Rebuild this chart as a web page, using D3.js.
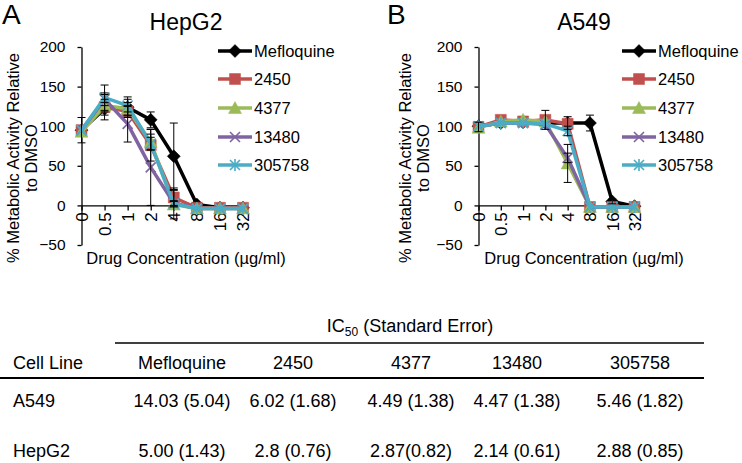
<!DOCTYPE html>
<html>
<head>
<meta charset="utf-8">
<script src="https://cdn.jsdelivr.net/npm/d3@7"></script>
<style>
html,body{margin:0;padding:0;background:#fff;}
svg{display:block;font-family:"Liberation Sans",Arial,sans-serif;}
</style>
</head>
<body>
<svg id="chart" width="742" height="463"></svg>
<script>
// ---------- data ----------
const concentrations = ["0", "0.5", "1", "2", "4", "8", "16", "32"];
const seriesNames = ["Mefloquine", "2450", "4377", "13480", "305758"];
const seriesColors = ["#000000", "#C0504D", "#9BBB59", "#8064A2", "#4BACC6"];
const yTicks = [-50, 0, 50, 100, 150, 200];

// HepG2 (panel A)
const hepg2Mefloquine = [95, 122, 124, 108, 62, 1, -3, -3];
const hepg2_2450      = [95, 124, 119, 76, 10, -3, -3, -3];
const hepg2_4377      = [93, 126, 122, 80, 1, -4, -4, -4];
const hepg2_13480     = [95, 134, 103, 48, 3, -4, -4, -4];
const hepg2_305758    = [95, 136, 126, 78, 2, -4, -4, -4];
const hepg2ErrMefloquine = [16, 8, 13, 10, 42, 0, 0, 0];
const hepg2Err2450       = [0, 16, 6, 20, 12, 0, 0, 0];
const hepg2Err4377       = [0, 8, 8, 10, 18, 0, 0, 0];
const hepg2Err13480      = [0, 8, 23, 48, 3, 0, 0, 0];
const hepg2Err305758     = [0, 16, 8, 8, 3, 0, 0, 0];

// A549 (panel B)
const a549Mefloquine = [100, 104, 105, 104, 104, 104, 5, -1];
const a549_2450      = [99, 108, 106, 108, 103, -2, -2, -2];
const a549_4377      = [98, 106, 108, 106, 53, -2, -2, -2];
const a549_13480     = [100, 104, 104, 102, 60, -2, -2, -2];
const a549_305758    = [100, 104, 104, 103, 94, -2, -2, -2];
const a549ErrMefloquine = [0, 0, 0, 0, 8, 10, 3, 0];
const a549Err2450       = [6, 0, 0, 12, 0, 0, 0, 0];
const a549Err4377       = [0, 0, 0, 0, 24, 0, 0, 0];
const a549Err13480      = [0, 0, 0, 0, 6, 0, 0, 0];
const a549Err305758     = [0, 0, 0, 0, 6, 0, 0, 0];

// IC50 table
const tableColumns = ["Mefloquine", "2450", "4377", "13480", "305758"];
const tableRowLabels = ["A549", "HepG2"];
const ic50A549  = ["14.03 (5.04)", "6.02 (1.68)", "4.49 (1.38)", "4.47 (1.38)", "5.46 (1.82)"];
const ic50HepG2 = ["5.00 (1.43)", "2.8 (0.76)", "2.87(0.82)", "2.14 (0.61)", "2.88 (0.85)"];

// ---------- drawing ----------
const svg = d3.select("#chart");
const FONT = "Liberation Sans, Arial, sans-serif";

const y = d3.scaleLinear().domain([-50, 200]).range([245, 47]);

function markerPath(i, s) {
  const h = s / 2;
  switch (i) {
    case 0: return `M0,${-h-1}L${h+1},0L0,${h+1}L${-h-1},0Z`;
    case 1: return `M${-h},${-h}H${h}V${h}H${-h}Z`;
    case 2: return `M0,${-h-1}L${h+1},${h}L${-h-1},${h}Z`;
    case 3: return `M${-h},${-h}L${h},${h}M${-h},${h}L${h},${-h}`;
    default: return `M${-h},${-h}L${h},${h}M${-h},${h}L${h},${-h}M0,${-h-1}V${h+1}`;
  }
}
function drawMarker(g, i, cx, cy) {
  const filled = i < 3;
  g.append("path")
    .attr("d", markerPath(i, filled ? 11 : 10))
    .attr("transform", `translate(${cx},${cy})`)
    .attr("fill", filled ? seriesColors[i] : "none")
    .attr("stroke", seriesColors[i])
    .attr("stroke-width", filled ? 0.5 : 1.6);
}

function drawPanel(opt) {
  const g = svg.append("g");
  const x = d3.scalePoint().domain(concentrations).range(opt.xRange);

  // panel letter & title
  g.append("text").attr("x", opt.letterX).attr("y", 24)
    .attr("font-size", 28).attr("font-family", FONT).text(opt.letter);
  g.append("text").attr("x", opt.titleX).attr("y", 30)
    .attr("text-anchor", "middle").attr("font-size", 23).attr("font-family", FONT).text(opt.title);

  // y axis
  const ya = g.append("g").attr("transform", `translate(${opt.xRange[0]},0)`)
    .call(d3.axisLeft(y).tickValues(yTicks).tickSize(4).tickSizeOuter(0).tickPadding(12));
  ya.selectAll("text").attr("font-size", 15.5).attr("font-family", FONT).attr("fill", "#000");
  ya.selectAll("path,line").attr("stroke", "#000").attr("stroke-width", 1.3);

  // x axis at y=0
  const xa = g.append("g").attr("transform", `translate(0,${y(0)})`)
    .call(d3.axisBottom(x).tickSize(5).tickSizeOuter(0));
  xa.selectAll("path,line").attr("stroke", "#000").attr("stroke-width", 1.3);
  xa.selectAll("text")
    .attr("font-size", 17).attr("font-family", FONT).attr("fill", "#000")
    .attr("transform", "rotate(-90)")
    .attr("x", -7).attr("y", 0).attr("dy", "0.35em")
    .style("text-anchor", "end");

  // axis titles
  g.append("text")
    .attr("transform", `translate(${opt.yTitleX},158) rotate(-90)`)
    .attr("text-anchor", "middle").attr("font-size", 16.5).attr("font-family", FONT)
    .text("% Metabolic Activity Relative");
  g.append("text")
    .attr("transform", `translate(${opt.yTitleX + 18},158) rotate(-90)`)
    .attr("text-anchor", "middle").attr("font-size", 16.5).attr("font-family", FONT)
    .text("to DMSO");
  g.append("text").attr("x", opt.titleX).attr("y", 264)
    .attr("text-anchor", "middle").attr("font-size", 16.5).attr("font-family", FONT)
    .text("Drug Concentration (\u00B5g/ml)");

  // series
  const line = d3.line().x((d, j) => x(concentrations[j])).y(d => y(d));
  opt.values.forEach((vals, i) => {
    g.append("path").datum(vals).attr("d", line)
      .attr("fill", "none").attr("stroke", seriesColors[i])
      .attr("stroke-width", 3.5).attr("stroke-linejoin", "round");
    vals.forEach((v, j) => drawMarker(g, i, x(concentrations[j]), y(v)));
  });

  // error bars
  opt.values.forEach((vals, i) => {
    vals.forEach((v, j) => {
      const e = opt.errors[i][j];
      if (!e) return;
      const cx = x(concentrations[j]);
      const y1 = y(v + e), y2 = y(v - e);
      g.append("line").attr("x1", cx).attr("x2", cx).attr("y1", y1).attr("y2", y2)
        .attr("stroke", "#000").attr("stroke-width", 1);
      [y1, y2].forEach(yy => g.append("line").attr("x1", cx - 4).attr("x2", cx + 4)
        .attr("y1", yy).attr("y2", yy).attr("stroke", "#000").attr("stroke-width", 1));
    });
  });

  // legend
  const legendY = [51, 79, 108, 137, 165];
  seriesNames.forEach((name, i) => {
    const ly = legendY[i];
    g.append("line").attr("x1", opt.legendX).attr("x2", opt.legendX + 34)
      .attr("y1", ly).attr("y2", ly).attr("stroke", seriesColors[i]).attr("stroke-width", 3.5);
    drawMarker(g, i, opt.legendX + 17, ly);
    g.append("text").attr("x", opt.legendX + 36).attr("y", ly).attr("dy", "0.35em")
      .attr("font-size", 16.5).attr("font-family", FONT).text(name);
  });
}

drawPanel({
  letter: "A", letterX: 2, title: "HepG2", titleX: 186,
  xRange: [81.5, 243], yTitleX: 19, legendX: 218,
  values: [hepg2Mefloquine, hepg2_2450, hepg2_4377, hepg2_13480, hepg2_305758],
  errors: [hepg2ErrMefloquine, hepg2Err2450, hepg2Err4377, hepg2Err13480, hepg2Err305758]
});
drawPanel({
  letter: "B", letterX: 387, title: "A549", titleX: 584,
  xRange: [478.5, 634.5], yTitleX: 411, legendX: 622,
  values: [a549Mefloquine, a549_2450, a549_4377, a549_13480, a549_305758],
  errors: [a549ErrMefloquine, a549Err2450, a549Err4377, a549Err13480, a549Err305758]
});

// ---------- table ----------
const tg = svg.append("g").attr("font-family", FONT).attr("font-size", 18);
const ic = tg.append("text").attr("x", 410).attr("y", 332).attr("text-anchor", "middle");
ic.append("tspan").text("IC");
ic.append("tspan").attr("font-size", 12).attr("dy", 4).text("50");
ic.append("tspan").attr("dy", -4).text(" (Standard Error)");

tg.append("line").attr("x1", 115).attr("x2", 704).attr("y1", 343).attr("y2", 343)
  .attr("stroke", "#000").attr("stroke-width", 1.5);
tg.append("line").attr("x1", 0).attr("x2", 704).attr("y1", 378).attr("y2", 378)
  .attr("stroke", "#000").attr("stroke-width", 2);

const colX = [182, 293, 411, 517, 640];
const rowY = [407, 457];
tg.append("text").attr("x", 13).attr("y", 369).text("Cell Line");
tableColumns.forEach((c, i) => tg.append("text").attr("x", colX[i]).attr("y", 369)
  .attr("text-anchor", "middle").text(c));
[ic50A549, ic50HepG2].forEach((row, r) => {
  tg.append("text").attr("x", 13).attr("y", rowY[r]).text(tableRowLabels[r]);
  row.forEach((v, i) => tg.append("text").attr("x", colX[i]).attr("y", rowY[r])
    .attr("text-anchor", "middle").text(v));
});
</script>
</body>
</html>
